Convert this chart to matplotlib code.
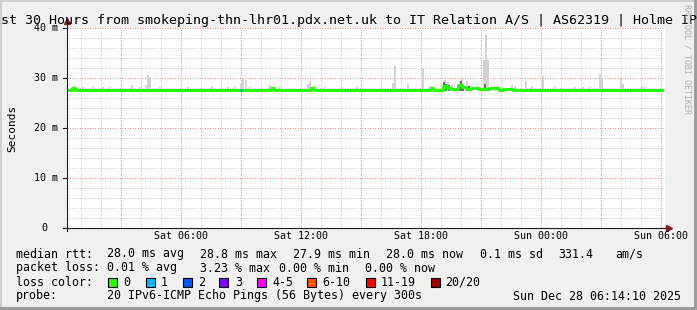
import numpy as np
import matplotlib.pyplot as plt
from matplotlib.patches import Rectangle

W, H = 697, 310

# hours counted from Sat 00:00
x_ticks = [6, 12, 18, 24, 30]
x_tick_labels = ['Sat 06:00', 'Sat 12:00', 'Sat 18:00', 'Sun 00:00', 'Sun 06:00']
y_ticks = [0, 10, 20, 30, 40]
y_tick_labels = ['0', '10 m', '20 m', '30 m', '40 m']

# median rtt (ms), step changes
med_t = [0.3, 0.55, 0.7, 10.5, 10.65, 12.5, 12.65, 18.45, 18.6, 19.1, 19.3, 19.5,
         19.85, 20.05, 20.25, 20.5, 20.9, 21.4, 21.9, 22.1, 22.6, 30.05]
med_v = [27.7, 28.1, 27.7, 28.1, 27.7, 28.1, 27.7, 28.0, 27.7, 28.5, 28.1, 27.9,
         28.6, 28.2, 27.9, 28.1, 27.8, 28.0, 27.7, 27.9, 27.7, 27.7]

# smoke tops (ms)
smoke_t = [0.3, 1.1, 1.6, 2.1, 2.45, 3.55, 3.95, 4.25, 4.35, 4.45, 4.95, 6.35, 7.55,
           8.35, 8.7, 9.0, 9.1, 9.25, 9.45, 10.45, 10.95, 12.35, 12.45, 13.2, 14.05,
           14.8, 16.6, 16.7, 17.35, 18.1, 18.55, 19.2, 19.35, 19.55, 19.95, 20.05,
           20.3, 20.55, 20.8, 21.15, 21.25, 21.35, 21.7, 22.55, 22.7, 23.25, 23.55,
           24.1, 24.7, 25.7, 26.1, 26.45, 26.95, 27.05, 28.0, 28.1, 29.05, 29.2]
smoke_hi = [28.6, 28.2, 28.3, 28.2, 28.2, 28.6, 28.2, 28.6, 30.6, 30.2, 28.2, 28.3, 28.4,
            28.2, 28.2, 28.9, 29.8, 29.6, 28.2, 28.6, 28.2, 28.8, 29.4, 28.2, 28.2,
            28.2, 29.0, 32.4, 28.8, 32.0, 28.4, 29.6, 29.2, 28.6, 29.4, 30.0,
            29.4, 28.5, 28.4, 33.6, 38.6, 33.6, 28.4, 28.6, 28.5, 29.4, 28.4,
            30.4, 28.3, 28.2, 28.3, 28.2, 30.8, 30.0, 29.8, 28.8, 28.4, 28.2]

# darker smoke close to the median
dark_t = [19.15, 19.25, 19.4, 19.9, 20.0, 20.1, 20.4, 21.2]
dark_hi = [29.2, 28.8, 28.6, 28.9, 29.4, 28.7, 28.5, 28.8]

loss_t = [8.95]

legend_colors = ['#26ff00', '#00b8ff', '#0059ff', '#7e00ff', '#ff00ff', '#ff5500', '#ff0000', '#a10000']
legend_names = ['0', '1', '2', '3', '4-5', '6-10', '11-19', '20/20']
legend_box_x = [108, 146, 183, 219, 257, 307, 366, 431]
legend_text_x = [123, 161, 198, 235, 272, 322, 381, 445]

mono = 'DejaVu Sans Mono'


def fx(x):
    return x / W


def fy(y):
    return 1 - y / H


fig = plt.figure(figsize=(W / 100, H / 100), dpi=100)
fig.patch.set_facecolor('#f0f0f0')

# 3d frame
fig.add_artist(Rectangle((0, 0), 2 / W, 1, transform=fig.transFigure, color='#cfcfcf', lw=0))
fig.add_artist(Rectangle((0, 1 - 2 / H), 1, 2 / H, transform=fig.transFigure, color='#cfcfcf', lw=0))
fig.add_artist(Rectangle((1 - 3 / W, 0), 3 / W, 1, transform=fig.transFigure, color='#9e9e9e', lw=0))
fig.add_artist(Rectangle((0, 0), 1, 3 / H, transform=fig.transFigure, color='#9e9e9e', lw=0))

# 20 px per hour, 5 px per ms
ax = fig.add_axes([fx(67), fy(228), 598 / W, 200 / H])
ax.set_xlim(0.3, 30.2)
ax.set_ylim(0, 40)
ax.set_facecolor('white')
for s in ax.spines.values():
    s.set_visible(False)
ax.set_xticks([])
ax.set_yticks([])

# grid
dots = (0, (1, 1.5))
for h in range(1, 31):
    if h % 3:
        ax.axvline(h, color='#c8c8c8', lw=0.72, ls=dots, zorder=1, snap=True)
for v in range(2, 41, 2):
    if v % 10:
        ax.axhline(v, color='#c8c8c8', lw=0.72, ls=dots, zorder=1, snap=True)
for h in range(3, 31, 3):
    ax.axvline(h, color='#ee8a8a', lw=0.72, ls=dots, zorder=1.5, snap=True)
for v in range(10, 41, 10):
    ax.axhline(v, color='#ee8a8a', lw=0.72, ls=dots, zorder=1.5, snap=True)

# smoke
base = 27.5
ax.bar(smoke_t, np.array(smoke_hi) - base, bottom=base, width=0.12, color='#d2d2d2', lw=0, zorder=2)
ax.bar(dark_t, np.array(dark_hi) - base, bottom=base, width=0.08, color='#6e6e6e', lw=0, zorder=3)

# median
ax.step(med_t, med_v, where='post', color='#26ff00', lw=2.2, zorder=4)
for t in loss_t:
    ax.plot([t, t + 0.12], [27.7, 27.7], color='#1e90ff', lw=2.2, solid_capstyle='butt', zorder=5)

# axes with arrows
ax.plot([0.3, 0.3], [-0.6, 41.2], color='#1f1f1f', lw=0.8, clip_on=False, zorder=6)
ax.plot([0.1, 30.3], [0, 0], color='#1f1f1f', lw=0.8, clip_on=False, zorder=6)
ax.plot([0.3], [41.4], marker='^', ms=5, color='#7f1f1f', clip_on=False, zorder=7)
ax.plot([30.4], [0], marker='>', ms=5, color='#7f1f1f', clip_on=False, zorder=7)
for v in y_ticks:
    ax.plot([0.12, 0.3], [v, v], color='#1f1f1f', lw=0.8, clip_on=False)

# tick labels
for t, lab in zip(x_ticks, x_tick_labels):
    fig.text(fx(61 + 20 * t), fy(231), lab, ha='center', va='top', fontsize=7.2, family=mono)
for v, lab in zip(y_ticks, y_tick_labels):
    xr = 58 if v else 47
    fig.text(fx(xr), fy(228 - 5 * v), lab, ha='right', va='center', fontsize=7.2, family=mono)

fig.text(fx(12), fy(128), 'Seconds', rotation=90, ha='center', va='center', fontsize=8, family=mono)

fig.text(fx(349), fy(24),
         'Last 30 Hours from smokeping-thn-lhr01.pdx.net.uk to IT Relation A/S | AS62319 | Holme IPv6',
         ha='center', va='baseline', fontsize=9.6, family=mono)

fig.text(fx(687), fy(59), 'RRDTOOL / TOBI OETIKER', rotation=270, ha='center', va='center',
         fontsize=6, family=mono, color='#b0b0b0')

# legend
rows = [
    (257.5, [(16, 'median rtt:'), (107, '28.0 ms avg'), (200, '28.8 ms max'), (293, '27.9 ms min'),
             (386, '28.0 ms now'), (480, '0.1 ms sd'), (558, '331.4'), (615, 'am/s')]),
    (271.5, [(16, 'packet loss:'), (107, '0.01 % avg'), (200, '3.23 % max'), (279, '0.00 % min'),
             (365, '0.00 % now')]),
    (285.5, [(16, 'loss color:')]),
    (299.5, [(16, 'probe:'), (107, '20 IPv6-ICMP Echo Pings (56 Bytes) every 300s'),
             (513, 'Sun Dec 28 06:14:10 2025')]),
]
for yb, items in rows:
    for x, s in items:
        fig.text(fx(x), fy(yb), s, ha='left', va='baseline', fontsize=8.4, family=mono)

for bx, tx, c, n in zip(legend_box_x, legend_text_x, legend_colors, legend_names):
    fig.add_artist(Rectangle((fx(bx), fy(287)), 9 / W, 9 / H, transform=fig.transFigure,
                             facecolor=c, edgecolor='black', lw=0.8))
    fig.text(fx(tx), fy(285.5), n, ha='left', va='baseline', fontsize=8.4, family=mono)

fig.savefig('out.png', dpi=100, facecolor=fig.get_facecolor())
